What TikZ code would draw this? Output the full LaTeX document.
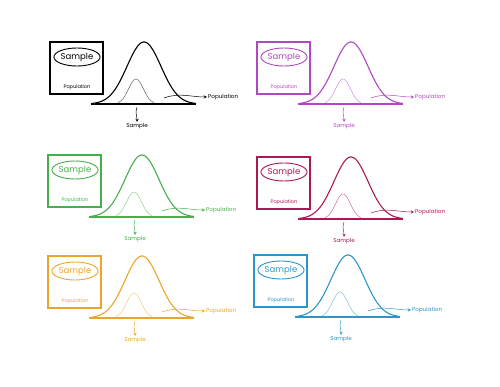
\documentclass[tikz,border=0pt]{standalone}
\usepackage{fontspec}
\setmainfont{Poppins}
\usepackage{tikz}
\usetikzlibrary{arrows,shapes,positioning,calc}

\definecolor{ppurple}{RGB}{176,72,196}
\definecolor{pgreen}{RGB}{70,175,75}
\definecolor{pcrimson}{RGB}{170,25,85}
\definecolor{porange}{RGB}{235,165,45}
\definecolor{pblue}{RGB}{45,150,200}

\tikzset{
  panelbox/.style={draw, line width=1.6pt, minimum width=53pt, minimum height=52pt, inner sep=0pt},
  smpoval/.style={draw, ellipse, line width=0.9pt, minimum width=42pt, minimum height=18pt, inner sep=0pt, font=\fontsize{8.5}{9}\selectfont},
  tinylbl/.style={inner sep=1pt, font=\fontsize{5}{6}\selectfont},
  smalllbl/.style={inner sep=1pt, font=\fontsize{5.6}{6.5}\selectfont},
  pointer/.style={->, >=stealth, line width=0.5pt}
}

\begin{document}
\begin{tikzpicture}[x = 1pt, y = -1pt]
\useasboundingbox (0,0) rectangle (500,387);

\foreach \i/\px/\py/\col in {1/50/42/black, 2/257/42/ppurple, 3/48/155/pgreen,
                             4/257/157/pcrimson, 5/48/256/porange, 6/254/255/pblue} {
  % box with the sample inside the population
  \node[panelbox, draw=\col] (box\i) at (\px+26.5, \py+26) {};
  \node[smpoval, draw=\col, text=\col] (oval\i) at (\px+27, \py+15) {Sample};
  \node[tinylbl, text=\col] (inpop\i) at (\px+27, \py+45) {Population};

  % the two curves
  \draw[\col, line width=1.1pt] (\px+41, \py+62) -- (\px+146, \py+62);
  \draw[\col, line width=1.1pt] plot[domain=-52:52, samples=80, smooth]
        ({\px+94+\x}, {\py+62-62*exp(-(\x)^2/578)});
  \draw[\col!60, line width=0.5pt] plot[domain=-18:18, samples=40, smooth]
        ({\px+86+\x}, {\py+62-25*exp(-(\x)^2/110)});

  % labels and pointers
  \node[smalllbl, text=\col] (smp\i) at (\px+87, \py+84) {Sample};
  \node[smalllbl, text=\col, anchor=west] (pop\i) at (\px+157, \py+55) {Population};
  \coordinate (sfrom\i) at (\px+87, \py+65);
  \coordinate (pfrom\i) at (\px+114, \py+56);
  \draw[pointer, \col] (sfrom\i) to[out=-110, in=90] (smp\i);
  \draw[pointer, \col] (pfrom\i) to[out=20, in=180] (pop\i);
}

\end{tikzpicture}
\end{document}
